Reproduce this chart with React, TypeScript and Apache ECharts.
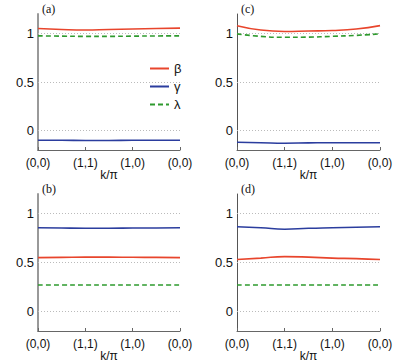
import React, { useEffect, useRef } from "react";
import * as echarts from "echarts";

const xs = [0, 0.5, 1, 1.5, 2, 2.5, 3];
const xTickLabels = ["(0,0)", "(1,1)", "(1,0)", "(0,0)"];
const yTicks = [0, 0.5, 1];

// panel (a)
const aBeta = [1.05, 1.04, 1.035, 1.04, 1.045, 1.05, 1.055];
const aGamma = [-0.1, -0.1, -0.102, -0.102, -0.1, -0.1, -0.1];
const aLambda = [0.975, 0.972, 0.97, 0.97, 0.972, 0.974, 0.975];
// panel (b)
const bBeta = [0.55, 0.552, 0.555, 0.555, 0.553, 0.552, 0.55];
const bGamma = [0.855, 0.852, 0.85, 0.85, 0.852, 0.853, 0.855];
const bLambda = [0.27, 0.27, 0.27, 0.27, 0.27, 0.27, 0.27];
// panel (c)
const cBeta = [1.08, 1.035, 1.02, 1.025, 1.03, 1.045, 1.08];
const cGamma = [-0.12, -0.125, -0.13, -0.127, -0.125, -0.125, -0.125];
const cLambda = [0.995, 0.97, 0.96, 0.962, 0.97, 0.98, 0.995];
// panel (d)
const dBeta = [0.53, 0.545, 0.56, 0.555, 0.545, 0.54, 0.53];
const dGamma = [0.865, 0.855, 0.84, 0.85, 0.855, 0.86, 0.865];
const dLambda = [0.27, 0.27, 0.27, 0.27, 0.27, 0.27, 0.27];

const panelLabels = ["(a)", "(b)", "(c)", "(d)"];
const seriesNames = ["β", "γ", "λ"];

const RED = "#e8452c";
const BLUE = "#2b3d9e";
const GREEN = "#2e9a2e";

export default function App() {
  const ref = useRef<HTMLDivElement>(null);
  useEffect(() => {
    if (!ref.current) return;
    document.body.style.margin = "0";
    const chart = echarts.init(ref.current, undefined, { renderer: "svg" });
    const grids = [
      { left: 38, top: 14, width: 142, height: 136, outerBoundsMode: "none", containLabel: false },
      { left: 38, top: 194, width: 142, height: 137, outerBoundsMode: "none", containLabel: false },
      { left: 237, top: 14, width: 143, height: 136, outerBoundsMode: "none", containLabel: false },
      { left: 237, top: 194, width: 143, height: 137, outerBoundsMode: "none", containLabel: false },
    ];
    const data = [
      [aBeta, aGamma, aLambda],
      [bBeta, bGamma, bLambda],
      [cBeta, cGamma, cLambda],
      [dBeta, dGamma, dLambda],
    ];
    const font = "Liberation Sans, Arial, sans-serif";
    const xAxis = grids.map((_, i) => ({
      type: "value",
      gridIndex: i,
      min: 0,
      max: 3,
      interval: 1,
      axisLine: { show: true, onZero: false, lineStyle: { color: "#666", width: 1 } },
      axisTick: { show: true, inside: true, length: 3, lineStyle: { color: "#666" } },
      splitLine: { show: false },
      axisLabel: {
        formatter: (v: number) => xTickLabels[Math.round(v)] ?? "",
        color: "#111",
        fontSize: 12,
        fontFamily: font,
        margin: 7,
      },
      name: "k/π",
      nameLocation: "middle",
      nameGap: 19,
      nameMoveOverlap: false,
      nameTextStyle: { color: "#111", fontSize: 12, fontFamily: font },
    }));
    const yAxis = grids.map((_, i) => ({
      type: "value",
      gridIndex: i,
      min: -0.2,
      max: 1.2,
      axisLine: {
        show: true,
        onZero: false,
        lineStyle: i < 2 ? { color: "#999", width: 2 } : { color: "#555", width: 1 },
      },
      axisTick: { show: false },
      splitLine: { show: false },
      axisLabel: {
        customValues: yTicks,
        formatter: (v: number) => String(v),
        color: "#111",
        fontSize: 13,
        fontFamily: font,
        margin: 4,
      },
    }));
    const series: any[] = [];
    data.forEach((panel, gi) => {
      panel.forEach((vals, si) => {
        const color = [RED, BLUE, GREEN][si];
        const s: any = {
          type: "line",
          name: seriesNames[si],
          xAxisIndex: gi,
          yAxisIndex: gi,
          data: xs.map((x, k) => [x, vals[k]]),
          smooth: true,
          showSymbol: false,
          symbol: "none",
          lineStyle: {
            color,
            width: 1.6,
            type: si === 2 ? [5, 3] : "solid",
          },
          itemStyle: { color },
          z: 3,
        };
        if (si === 0) {
          s.markLine = {
            silent: true,
            symbol: "none",
            label: { show: false },
            lineStyle: { color: "#bbb", type: [1, 2], width: 1 },
            data: yTicks.map((y) => ({ yAxis: y })),
            z: 1,
          };
        }
        series.push(s);
      });
    });
    chart.setOption({
      animation: false,
      backgroundColor: "#fff",
      grid: grids,
      xAxis,
      yAxis,
      graphic: panelLabels.map((t, i) => ({
        type: "text",
        x: grids[i].left + 4,
        y: grids[i].top - 11,
        style: {
          text: t,
          fontFamily: "Liberation Serif, Times New Roman, serif",
          fontSize: 12,
          fill: "#111",
          verticalAlign: "top",
          textVerticalAlign: "top",
          align: "left",
        },
      })),
      legend: {
        orient: "vertical",
        left: 144,
        top: 57,
        itemWidth: 19,
        itemHeight: 12,
        itemGap: 5,
        data: seriesNames,
        itemStyle: { opacity: 0, borderWidth: 0 },
        textStyle: { fontFamily: font, fontSize: 13, color: "#111" },
      },
      series,
    });
    return () => chart.dispose();
  }, []);
  return <div ref={ref} style={{ width: 399, height: 362 }} />;
}
